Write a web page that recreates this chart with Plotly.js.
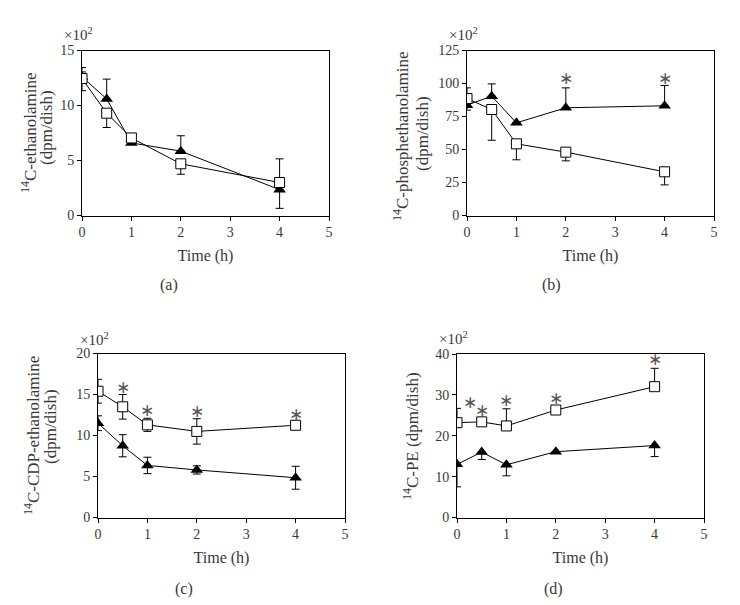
<!DOCTYPE html>
<html>
<head>
<meta charset="utf-8">
<script src="https://cdn.plot.ly/plotly-3.0.1.min.js"></script>
<style>html,body{margin:0;padding:0;background:#fff;}#chart{width:740px;height:605px;}</style>
</head>
<body>
<div id="chart"></div>
<script>
// ---- data ----
var time = [0, 0.5, 1, 2, 4];

// (a) 14C-ethanolamine (x10^2 dpm/dish)
var aTri = [12.6, 10.6, 6.6, 5.85, 2.35];
var aTriPlus = [0.85, 1.8, 0, 1.4, 0];
var aTriMinus = [0.45, 0, 0, 0, 1.7];
var aSq = [12.45, 9.3, 7.05, 4.7, 3.0];
var aSqPlus = [0.6, 0, 0, 0, 2.15];
var aSqMinus = [1.1, 1.3, 0, 0.95, 0];

// (b) 14C-phosphethanolamine
var bTri = [83.6, 90.4, 70.2, 81.6, 83.1];
var bTriPlus = [0, 9.3, 0, 15.1, 15.4];
var bTriMinus = [3.8, 0, 0, 0, 0];
var bSq = [88.6, 80.3, 54.3, 48, 33.1];
var bSqPlus = [8.1, 0, 0, 0, 0];
var bSqMinus = [0, 23.3, 12.1, 6.6, 9.9];
var bStarX = [2, 4];
var bStarY = [104, 104];

// (c) 14C-CDP-ethanolamine
var cSq = [15.4, 13.5, 11.3, 10.5, 11.25];
var cSqErr = [1.45, 1.5, 0.8, 1.55, 0];
var cTri = [11.5, 8.75, 6.35, 5.8, 4.85];
var cTriErr = [0.9, 1.35, 1.0, 0.5, 1.4];
var cStarX = [0.5, 1, 2, 4];
var cStarY = [15.96, 13.16, 12.96, 12.68];

// (d) 14C-PE
var dSq = [23.2, 23.4, 22.4, 26.3, 32.0];
var dSqPlus = [3.5, 0, 4.2, 0, 4.5];
var dTri = [13.0, 16.0, 12.9, 16.1, 17.6];
var dTriMinus = [5.5, 1.8, 2.7, 0, 2.7];
var dStarX = [0.27, 0.5, 1, 2, 4];
var dStarY = [28.3, 26.4, 28.85, 29.3, 38.7];

var xTicks = [0, 1, 2, 3, 4, 5];
var aTicks = [0, 5, 10, 15];
var bTicks = [0, 25, 50, 75, 100, 125];
var cTicks = [0, 5, 10, 15, 20];
var dTicks = [0, 10, 20, 30, 40];

// ---- helpers ----
var FONT = '"Liberation Serif", "Times New Roman", serif';
var TXT = '#383838';

function zeros(a) { return a.map(function () { return 0; }); }

function triTrace(y, plus, minus, xa, ya) {
  return {
    x: time, y: y, xaxis: xa, yaxis: ya, type: 'scatter', mode: 'lines+markers',
    line: {color: '#000', width: 1},
    marker: {symbol: 'triangle-up', size: 11, color: '#000'},
    error_y: {type: 'data', symmetric: false, array: plus, arrayminus: minus,
              color: '#000', thickness: 1, width: 4},
    showlegend: false, hoverinfo: 'x+y'
  };
}
function sqTrace(y, plus, minus, xa, ya) {
  return {
    x: time, y: y, xaxis: xa, yaxis: ya, type: 'scatter', mode: 'lines+markers',
    line: {color: '#000', width: 1},
    marker: {symbol: 'square', size: 10, color: '#fff', line: {color: '#000', width: 1}},
    error_y: {type: 'data', symmetric: false, array: plus, arrayminus: minus,
              color: '#000', thickness: 1, width: 4},
    showlegend: false, hoverinfo: 'x+y'
  };
}

var data = [
  triTrace(aTri, aTriPlus, aTriMinus, 'x', 'y'),
  sqTrace(aSq, aSqPlus, aSqMinus, 'x', 'y'),
  triTrace(bTri, bTriPlus, bTriMinus, 'x2', 'y2'),
  sqTrace(bSq, bSqPlus, bSqMinus, 'x2', 'y2'),
  triTrace(cTri, cTriErr, cTriErr, 'x3', 'y3'),
  sqTrace(cSq, cSqErr, cSqErr, 'x3', 'y3'),
  triTrace(dTri, zeros(dTri), dTriMinus, 'x4', 'y4'),
  sqTrace(dSq, dSqPlus, zeros(dSq), 'x4', 'y4')
];

function xAxis(dom, anchor) {
  return {domain: dom, anchor: anchor, range: [0, 5], tickvals: xTicks,
    showgrid: false, zeroline: false, showline: true, mirror: true, linecolor: '#000', linewidth: 1,
    ticks: 'outside', ticklen: 4, tickcolor: '#000',
    tickfont: {family: FONT, size: 14, color: TXT},
    title: {text: 'Time (h)', font: {family: FONT, size: 16, color: TXT}, standoff: 10}};
}
function yAxis(dom, anchor, range, ticks) {
  return {domain: dom, anchor: anchor, range: range, tickvals: ticks,
    showgrid: false, zeroline: false, showline: true, mirror: true, linecolor: '#000', linewidth: 1,
    ticks: 'outside', ticklen: 4, tickcolor: '#000',
    tickfont: {family: FONT, size: 14, color: TXT}};
}

var W = 740, H = 605;
function fx(px) { return px / W; }
function fy(py) { return 1 - py / H; }

var layout = {
  width: W, height: H,
  margin: {l: 0, r: 0, t: 0, b: 0},
  paper_bgcolor: '#fff', plot_bgcolor: '#fff',
  font: {family: FONT, color: TXT},
  xaxis: xAxis([fx(82), fx(329)], 'y'),
  yaxis: yAxis([fy(215.5), fy(50.5)], 'x', [0, 15], aTicks),
  xaxis2: xAxis([fx(467), fx(714)], 'y2'),
  yaxis2: yAxis([fy(215.5), fy(50.5)], 'x2', [0, 125], bTicks),
  xaxis3: xAxis([fx(98), fx(345)], 'y3'),
  yaxis3: yAxis([fy(517.5), fy(353.5)], 'x3', [0, 20], cTicks),
  xaxis4: xAxis([fx(457), fx(704)], 'y4'),
  yaxis4: yAxis([fy(517.5), fy(354)], 'x4', [0, 40], dTicks),
  annotations: []
};

function paperText(text, x, y, size, angle) {
  return {text: text, xref: 'paper', yref: 'paper', x: fx(x), y: fy(y),
    xanchor: 'center', yanchor: 'middle', showarrow: false, textangle: angle || 0,
    font: {family: FONT, size: size, color: TXT}};
}

var ann = layout.annotations;
// y-axis titles (one annotation per line)
ann.push(paperText('<sup>14</sup>C-ethanolamine', 29, 133, 17, -90));
ann.push(paperText('(dpm/dish)', 46, 128, 17, -90));
ann.push(paperText('<sup>14</sup>C-phosphethanolamine', 401, 136, 17, -90));
ann.push(paperText('(dpm/dish)', 423, 134, 17, -90));
ann.push(paperText('<sup>14</sup>C-CDP-ethanolamine', 32, 436, 17, -90));
ann.push(paperText('(dpm/dish)', 50, 427, 17, -90));
ann.push(paperText('<sup>14</sup>C-PE (dpm/dish)', 411, 436, 17, -90));
// multipliers
ann.push(paperText('×10<sup>2</sup>', 78, 34, 15));
ann.push(paperText('×10<sup>2</sup>', 463, 34, 15));
ann.push(paperText('×10<sup>2</sup>', 94, 339, 15));
ann.push(paperText('×10<sup>2</sup>', 453, 338, 15));
// panel labels
ann.push(paperText('(a)', 169, 285, 16));
ann.push(paperText('(b)', 551, 285, 16));
ann.push(paperText('(c)', 184, 589, 16));
ann.push(paperText('(d)', 553, 589, 16));

function stars(xs, ys, xa, ya) {
  for (var i = 0; i < xs.length; i++) {
    ann.push({text: '∗', x: xs[i], y: ys[i], xref: xa, yref: ya, showarrow: false,
      xanchor: 'center', yanchor: 'middle', font: {family: 'DejaVu Sans', size: 17, color: '#555'}});
  }
}
stars(bStarX, bStarY, 'x2', 'y2');
stars(cStarX, cStarY, 'x3', 'y3');
stars(dStarX, dStarY, 'x4', 'y4');

Plotly.newPlot('chart', data, layout, {displayModeBar: false, staticPlot: true});
</script>
</body>
</html>
